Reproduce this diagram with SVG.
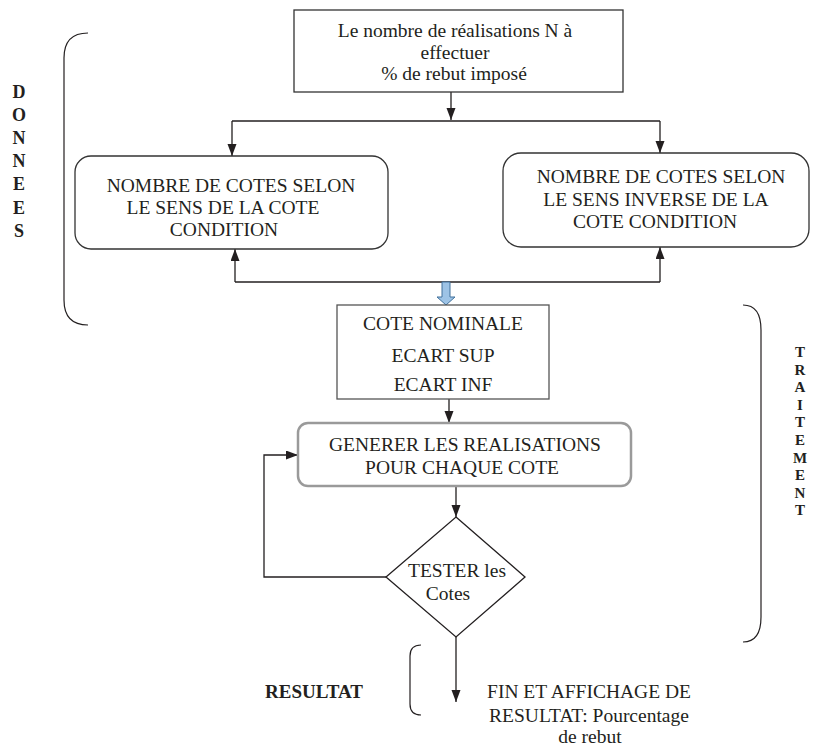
<svg xmlns="http://www.w3.org/2000/svg" width="815" height="749" viewBox="0 0 815 749">
<style>
text{font-family:"Liberation Serif","Times New Roman",serif;fill:#231f20;}
.t{font-size:19.5px;text-anchor:middle;}
.b{font-size:18px;font-weight:bold;text-anchor:middle;}
.bs{font-size:15px;font-weight:bold;text-anchor:middle;}
.box{fill:#fff;stroke:#333;stroke-width:1.3;}
.gbox{fill:#fff;stroke:#9a9a9a;stroke-width:2.5;}
.ln{fill:none;stroke:#231f20;stroke-width:1.3;}
.br{fill:none;stroke:#231f20;stroke-width:1.2;}
</style>
<defs>
<marker id="ah" markerUnits="userSpaceOnUse" markerWidth="12" markerHeight="10" refX="12" refY="4.5" orient="auto">
<path d="M0,0 L12,4.5 L0,9 z" fill="#231f20"/>
</marker>
</defs>
<g id="brackets">
<path class="br" d="M88 33 Q64 33 64 58 L64 300 Q64 325 88 325"/>
<path class="br" d="M743 305 Q761 305 761 330 L761 617 Q761 642 743 642"/>
<path class="br" d="M421 645 Q410 645 410 656 L410 704 Q410 715 421 715"/>
</g>
<g id="label-donnees">
<text class="b" x="19" y="98">D</text>
<text class="b" x="19" y="121">O</text>
<text class="b" x="19" y="144">N</text>
<text class="b" x="19" y="167">N</text>
<text class="b" x="19" y="190">E</text>
<text class="b" x="19" y="214">E</text>
<text class="b" x="19" y="237">S</text>
</g>
<g id="label-traitement">
<text class="bs" x="800" y="357">T</text>
<text class="bs" x="800" y="375">R</text>
<text class="bs" x="800" y="392">A</text>
<text class="bs" x="800" y="410">I</text>
<text class="bs" x="800" y="427">T</text>
<text class="bs" x="800" y="445">E</text>
<text class="bs" x="800" y="463">M</text>
<text class="bs" x="800" y="480">E</text>
<text class="bs" x="800" y="498">N</text>
<text class="bs" x="800" y="515">T</text>
</g>
<g id="label-resultat">
<text x="314" y="698" style="font-size:19px;font-weight:bold;text-anchor:middle">RESULTAT</text>
</g>
<g id="connectors">
<path class="ln" d="M451 92 L451 120" marker-end="url(#ah)"/>
<path class="ln" d="M232 121 L660 121"/>
<path class="ln" d="M232 121 L232 156" marker-end="url(#ah)"/>
<path class="ln" d="M660 121 L660 153" marker-end="url(#ah)"/>
<path class="ln" d="M235 282 L660 282"/>
<path class="ln" d="M235 282 L235 249" marker-end="url(#ah)"/>
<path class="ln" d="M660 282 L660 247" marker-end="url(#ah)"/>
<path d="M442 282 L450 282 L450 297 L455 297 L446 305 L437 297 L442 297 Z" fill="#9dc3e6" stroke="#41719c" stroke-width="1"/>
<path class="ln" d="M449 399 L449 423" marker-end="url(#ah)"/>
<path class="ln" d="M456 486 L456 517" marker-end="url(#ah)"/>
<path class="ln" d="M386 577 L264 577 L264 455 L298 455" marker-end="url(#ah)"/>
<path class="ln" d="M456 637 L456 702" marker-end="url(#ah)"/>
</g>
<g id="node-donnees">
<rect class="box" x="294" y="10" width="329" height="82"/>
<text class="t" x="455" y="37">Le nombre de réalisations N à</text>
<text class="t" x="455" y="59">effectuer</text>
<text class="t" x="454" y="80">% de rebut imposé</text>
</g>
<g id="node-sens">
<rect class="box" x="75" y="156" width="313" height="93" rx="16"/>
<text class="t" x="231" y="192">NOMBRE DE COTES SELON</text>
<text class="t" x="223" y="214">LE SENS DE LA COTE</text>
<text class="t" x="224" y="236">CONDITION</text>
</g>
<g id="node-inverse">
<rect class="box" x="503" y="153" width="306" height="94" rx="18"/>
<text class="t" x="661" y="183">NOMBRE DE COTES SELON</text>
<text class="t" x="656" y="206">LE SENS INVERSE DE LA</text>
<text class="t" x="655" y="228">COTE CONDITION</text>
</g>
<g id="node-cote">
<rect class="box" x="337" y="305" width="212" height="94" style="stroke:#555"/>
<text class="t" x="443" y="330">COTE NOMINALE</text>
<text class="t" x="443" y="362">ECART SUP</text>
<text class="t" x="443" y="391">ECART INF</text>
</g>
<g id="node-generer">
<rect class="gbox" x="298" y="423" width="333" height="63" rx="10"/>
<text class="t" x="465" y="451">GENERER LES REALISATIONS</text>
<text class="t" x="462" y="474">POUR CHAQUE COTE</text>
</g>
<g id="node-tester">
<path class="box" d="M456 517 L525 577 L456 637 L386 577 Z" style="stroke:#231f20"/>
<text class="t" x="457" y="577">TESTER les</text>
<text class="t" x="448" y="600">Cotes</text>
</g>
<g id="node-fin">
<text class="t" x="589" y="698">FIN ET AFFICHAGE DE</text>
<text class="t" x="589" y="722">RESULTAT: Pourcentage</text>
<text class="t" x="590" y="743">de rebut</text>
</g>
</svg>
